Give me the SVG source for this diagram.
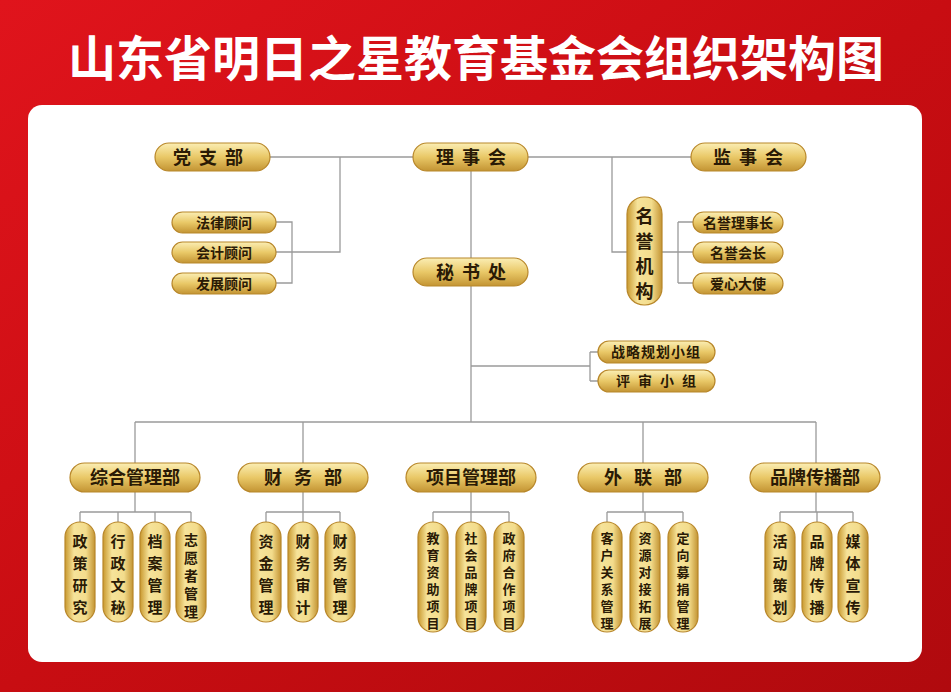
<svg xmlns="http://www.w3.org/2000/svg" width="951" height="692" viewBox="0 0 951 692">
<defs>
<linearGradient id="bg" x1="0" y1="0" x2="1" y2="1"><stop offset="0" stop-color="#e0141c"/><stop offset="0.5" stop-color="#c80d12"/><stop offset="1" stop-color="#b00a0e"/></linearGradient>
<linearGradient id="gold" x1="0" y1="0" x2="0" y2="1"><stop offset="0" stop-color="#fbeeb4"/><stop offset="0.5" stop-color="#e9c867"/><stop offset="1" stop-color="#c39433"/></linearGradient>
<linearGradient id="goldh" x1="0" y1="0" x2="1" y2="0"><stop offset="0" stop-color="#c9992f"/><stop offset="0.3" stop-color="#f6e39a"/><stop offset="0.7" stop-color="#f3dc8c"/><stop offset="1" stop-color="#c39433"/></linearGradient>
</defs>
<style>
.p{fill:url(#gold);stroke:#b8872a;stroke-width:1.2}
.v{fill:url(#goldh);stroke:#b8872a;stroke-width:1.2}
.t{font-family:"Noto Sans CJK SC",sans-serif;font-weight:bold;fill:#2a1a05;text-anchor:middle}
.l{stroke:#9a9a9a;stroke-width:1.3;fill:none}
</style>
<rect width="951" height="692" fill="url(#bg)"/>
<rect x="28" y="105" width="894" height="557" rx="14" fill="#ffffff"/>
<text x="476" y="76" font-family="Noto Sans CJK SC,sans-serif" font-weight="bold" font-size="48" fill="#ffffff" text-anchor="middle">山东省明日之星教育基金会组织架构图</text>
<g id="connectors" class="l">
<path d="M270 157H413M528 157H691"/>
<path d="M340 157V252H292M276 222H292V283H276M276 252H292"/>
<path d="M612 157V252H627M662 252H678M678 222V283M678 222H693M678 252H693M678 283H693"/>
<path d="M471 171V258M471 286V422M471 366H590M590 352V381M590 352H598M590 381H598"/>
<path d="M135 422H816M135 422V463M303 422V463M643 422V463M816 422V463"/>
<path d="M135 492V512M80 512H191M80 512V522M118 512V522M155 512V522M191 512V522"/>
<path d="M303 492V512M266 512H340M266 512V522M303 512V522M340 512V522"/>
<path d="M471 492V512M433 512H509M433 512V522M471 512V522M509 512V522"/>
<path d="M643 492V512M607 512H683M607 512V522M645 512V522M683 512V522"/>
<path d="M816 492V512M780 512H853M780 512V522M817 512V522M853 512V522"/>
</g>
<g id="n_dzb"><rect class="p" x="155" y="143" width="115" height="28" rx="14"/><text class="t" x="212" y="164" font-size="18" letter-spacing="8">党支部</text></g>
<g id="n_lsh"><rect class="p" x="413" y="143" width="115" height="28" rx="14"/><text class="t" x="475" y="164" font-size="18" letter-spacing="8">理事会</text></g>
<g id="n_jsh"><rect class="p" x="691" y="143" width="115" height="28" rx="14"/><text class="t" x="752" y="164" font-size="18" letter-spacing="8">监事会</text></g>
<g id="n_fl"><rect class="p" x="172" y="212" width="104" height="21" rx="10.5"/><text class="t" x="224" y="228" font-size="14">法律顾问</text></g>
<g id="n_kj"><rect class="p" x="172" y="242" width="104" height="21" rx="10.5"/><text class="t" x="224" y="258" font-size="14">会计顾问</text></g>
<g id="n_fz"><rect class="p" x="172" y="273" width="104" height="21" rx="10.5"/><text class="t" x="224" y="289" font-size="14">发展顾问</text></g>
<g id="n_my"><rect class="v" x="627" y="197" width="35" height="108" rx="17"/><text class="t" x="644.5" font-size="18"><tspan x="644.5" y="223">名</tspan><tspan x="644.5" y="248">誉</tspan><tspan x="644.5" y="273">机</tspan><tspan x="644.5" y="298">构</tspan></text></g>
<g id="n_mylsz"><rect class="p" x="693" y="212" width="90" height="21" rx="10.5"/><text class="t" x="738" y="228" font-size="14">名誉理事长</text></g>
<g id="n_myhz"><rect class="p" x="693" y="242" width="90" height="21" rx="10.5"/><text class="t" x="738" y="258" font-size="14">名誉会长</text></g>
<g id="n_axds"><rect class="p" x="693" y="273" width="90" height="21" rx="10.5"/><text class="t" x="738" y="289" font-size="14">爱心大使</text></g>
<g id="n_msc"><rect class="p" x="413" y="258" width="115" height="28" rx="14"/><text class="t" x="475" y="279" font-size="18" letter-spacing="8">秘书处</text></g>
<g id="n_zl"><rect class="p" x="598" y="341" width="117" height="22" rx="11"/><text class="t" x="656" y="357" font-size="14" letter-spacing="1">战略规划小组</text></g>
<g id="n_ps"><rect class="p" x="598" y="370" width="117" height="22" rx="11"/><text class="t" x="660" y="386" font-size="14" letter-spacing="8">评审小组</text></g>
<g id="d1"><rect class="p" x="70" y="463" width="130" height="29" rx="14.5"/><text class="t" x="135" y="484" font-size="18">综合管理部</text></g>
<g id="d2"><rect class="p" x="238" y="463" width="130" height="29" rx="14.5"/><text class="t" x="309" y="484" font-size="18" letter-spacing="12">财务部</text></g>
<g id="d3"><rect class="p" x="406" y="463" width="130" height="29" rx="14.5"/><text class="t" x="471" y="484" font-size="18">项目管理部</text></g>
<g id="d4"><rect class="p" x="578" y="463" width="130" height="29" rx="14.5"/><text class="t" x="649" y="484" font-size="18" letter-spacing="12">外联部</text></g>
<g id="d5"><rect class="p" x="750" y="463" width="130" height="29" rx="14.5"/><text class="t" x="815" y="484" font-size="18">品牌传播部</text></g>
<g id="s1a"><rect class="v" x="65" y="522" width="30" height="100" rx="15"/><text class="t" font-size="15"><tspan x="80" y="547">政</tspan><tspan x="80" y="569">策</tspan><tspan x="80" y="591">研</tspan><tspan x="80" y="613">究</tspan></text></g>
<g id="s1b"><rect class="v" x="103" y="522" width="30" height="100" rx="15"/><text class="t" font-size="15"><tspan x="118" y="547">行</tspan><tspan x="118" y="569">政</tspan><tspan x="118" y="591">文</tspan><tspan x="118" y="613">秘</tspan></text></g>
<g id="s1c"><rect class="v" x="140" y="522" width="30" height="100" rx="15"/><text class="t" font-size="15"><tspan x="155" y="547">档</tspan><tspan x="155" y="569">案</tspan><tspan x="155" y="591">管</tspan><tspan x="155" y="613">理</tspan></text></g>
<g id="s1d"><rect class="v" x="176" y="522" width="30" height="100" rx="15"/><text class="t" font-size="14"><tspan x="191" y="545">志</tspan><tspan x="191" y="563">愿</tspan><tspan x="191" y="581">者</tspan><tspan x="191" y="599">管</tspan><tspan x="191" y="617">理</tspan></text></g>
<g id="s2a"><rect class="v" x="251" y="522" width="30" height="100" rx="15"/><text class="t" font-size="15"><tspan x="266" y="547">资</tspan><tspan x="266" y="569">金</tspan><tspan x="266" y="591">管</tspan><tspan x="266" y="613">理</tspan></text></g>
<g id="s2b"><rect class="v" x="288" y="522" width="30" height="100" rx="15"/><text class="t" font-size="15"><tspan x="303" y="547">财</tspan><tspan x="303" y="569">务</tspan><tspan x="303" y="591">审</tspan><tspan x="303" y="613">计</tspan></text></g>
<g id="s2c"><rect class="v" x="325" y="522" width="30" height="100" rx="15"/><text class="t" font-size="15"><tspan x="340" y="547">财</tspan><tspan x="340" y="569">务</tspan><tspan x="340" y="591">管</tspan><tspan x="340" y="613">理</tspan></text></g>
<g id="s3a"><rect class="v" x="418" y="522" width="30" height="110" rx="15"/><text class="t" font-size="13"><tspan x="433" y="543">教</tspan><tspan x="433" y="560">育</tspan><tspan x="433" y="577">资</tspan><tspan x="433" y="594">助</tspan><tspan x="433" y="611">项</tspan><tspan x="433" y="628">目</tspan></text></g>
<g id="s3b"><rect class="v" x="456" y="522" width="30" height="110" rx="15"/><text class="t" font-size="13"><tspan x="471" y="543">社</tspan><tspan x="471" y="560">会</tspan><tspan x="471" y="577">品</tspan><tspan x="471" y="594">牌</tspan><tspan x="471" y="611">项</tspan><tspan x="471" y="628">目</tspan></text></g>
<g id="s3c"><rect class="v" x="494" y="522" width="30" height="110" rx="15"/><text class="t" font-size="13"><tspan x="509" y="543">政</tspan><tspan x="509" y="560">府</tspan><tspan x="509" y="577">合</tspan><tspan x="509" y="594">作</tspan><tspan x="509" y="611">项</tspan><tspan x="509" y="628">目</tspan></text></g>
<g id="s4a"><rect class="v" x="592" y="522" width="30" height="110" rx="15"/><text class="t" font-size="13"><tspan x="607" y="543">客</tspan><tspan x="607" y="560">户</tspan><tspan x="607" y="577">关</tspan><tspan x="607" y="594">系</tspan><tspan x="607" y="611">管</tspan><tspan x="607" y="628">理</tspan></text></g>
<g id="s4b"><rect class="v" x="630" y="522" width="30" height="110" rx="15"/><text class="t" font-size="13"><tspan x="645" y="543">资</tspan><tspan x="645" y="560">源</tspan><tspan x="645" y="577">对</tspan><tspan x="645" y="594">接</tspan><tspan x="645" y="611">拓</tspan><tspan x="645" y="628">展</tspan></text></g>
<g id="s4c"><rect class="v" x="668" y="522" width="30" height="110" rx="15"/><text class="t" font-size="13"><tspan x="683" y="543">定</tspan><tspan x="683" y="560">向</tspan><tspan x="683" y="577">募</tspan><tspan x="683" y="594">捐</tspan><tspan x="683" y="611">管</tspan><tspan x="683" y="628">理</tspan></text></g>
<g id="s5a"><rect class="v" x="765" y="522" width="30" height="100" rx="15"/><text class="t" font-size="15"><tspan x="780" y="547">活</tspan><tspan x="780" y="569">动</tspan><tspan x="780" y="591">策</tspan><tspan x="780" y="613">划</tspan></text></g>
<g id="s5b"><rect class="v" x="802" y="522" width="30" height="100" rx="15"/><text class="t" font-size="15"><tspan x="817" y="547">品</tspan><tspan x="817" y="569">牌</tspan><tspan x="817" y="591">传</tspan><tspan x="817" y="613">播</tspan></text></g>
<g id="s5c"><rect class="v" x="838" y="522" width="30" height="100" rx="15"/><text class="t" font-size="15"><tspan x="853" y="547">媒</tspan><tspan x="853" y="569">体</tspan><tspan x="853" y="591">宣</tspan><tspan x="853" y="613">传</tspan></text></g>
</svg>
